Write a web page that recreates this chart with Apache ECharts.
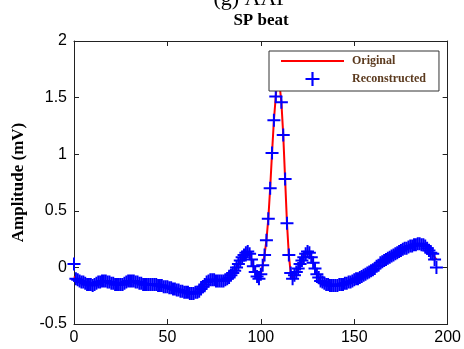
<!DOCTYPE html>
<html>
<head>
<meta charset="utf-8">
<script src="https://cdn.jsdelivr.net/npm/echarts@6/dist/echarts.min.js"></script>
<style>html,body{margin:0;padding:0;background:#fff}#c{width:464px;height:349px}</style>
</head>
<body>
<div id="c"></div>
<script>
// sample index starts at 0, one sample per x unit
var startX = 0;
var original = [
 -0.08,-0.10,-0.11,-0.12,-0.13,-0.13,-0.14,-0.15,-0.15,-0.15,
 -0.16,-0.15,-0.14,-0.13,-0.13,-0.12,-0.12,-0.12,-0.13,-0.13,
 -0.14,-0.14,-0.15,-0.15,-0.15,-0.15,-0.15,-0.14,-0.13,-0.12,
 -0.12,-0.12,-0.12,-0.13,-0.13,-0.14,-0.14,-0.15,-0.15,-0.15,
 -0.15,-0.15,-0.15,-0.15,-0.15,-0.16,-0.16,-0.16,-0.17,-0.17,
 -0.17,-0.18,-0.18,-0.19,-0.19,-0.20,-0.20,-0.21,-0.21,-0.22,
 -0.22,-0.22,-0.23,-0.23,-0.23,-0.22,-0.22,-0.21,-0.19,-0.17,
 -0.15,-0.13,-0.12,-0.11,-0.11,-0.11,-0.12,-0.12,-0.12,-0.12,
 -0.12,-0.11,-0.10,-0.09,-0.07,-0.05,-0.03,0.00,0.03,0.06,
 0.09,0.11,0.13,0.14,0.12,0.07,0.01,-0.04,-0.08,-0.10,
 -0.06,0.02,0.11,0.24,0.43,0.70,1.01,1.30,1.51,1.72,
 1.62,1.46,1.17,0.78,0.39,0.11,-0.05,-0.10,-0.07,-0.04,
 -0.01,0.03,0.06,0.09,0.12,0.14,0.13,0.09,0.04,-0.01,
 -0.06,-0.09,-0.12,-0.13,-0.14,-0.15,-0.15,-0.16,-0.16,-0.16,
 -0.16,-0.16,-0.15,-0.15,-0.15,-0.14,-0.14,-0.13,-0.13,-0.12,
 -0.11,-0.10,-0.10,-0.09,-0.08,-0.07,-0.06,-0.05,-0.04,-0.03,
 -0.02,-0.01,0.01,0.02,0.04,0.05,0.06,0.07,0.08,0.09,
 0.10,0.11,0.12,0.13,0.14,0.15,0.16,0.17,0.17,0.18,
 0.19,0.19,0.20,0.20,0.21,0.21,0.20,0.20,0.19,0.17,
 0.15,0.13,0.11,0.09,0.07
];
var reconstructed = [
 0.03,-0.10,-0.11,-0.12,-0.13,-0.13,-0.14,-0.15,-0.15,-0.15,
 -0.16,-0.15,-0.14,-0.13,-0.13,-0.12,-0.12,-0.12,-0.13,-0.13,
 -0.14,-0.14,-0.15,-0.15,-0.15,-0.15,-0.15,-0.14,-0.13,-0.12,
 -0.12,-0.12,-0.12,-0.13,-0.13,-0.14,-0.14,-0.15,-0.15,-0.15,
 -0.15,-0.15,-0.15,-0.15,-0.15,-0.16,-0.16,-0.16,-0.17,-0.17,
 -0.17,-0.18,-0.18,-0.19,-0.19,-0.20,-0.20,-0.21,-0.21,-0.22,
 -0.22,-0.22,-0.23,-0.23,-0.23,-0.22,-0.22,-0.21,-0.19,-0.17,
 -0.15,-0.13,-0.12,-0.11,-0.11,-0.11,-0.12,-0.12,-0.12,-0.12,
 -0.12,-0.11,-0.10,-0.09,-0.07,-0.05,-0.03,0.00,0.03,0.06,
 0.09,0.11,0.13,0.14,0.12,0.07,0.01,-0.04,-0.08,-0.10,
 -0.06,0.02,0.11,0.24,0.43,0.70,1.01,1.30,1.51,1.72,
 1.62,1.46,1.17,0.78,0.39,0.11,-0.05,-0.10,-0.07,-0.04,
 -0.01,0.03,0.06,0.09,0.12,0.14,0.13,0.09,0.04,-0.01,
 -0.06,-0.09,-0.12,-0.13,-0.14,-0.15,-0.15,-0.16,-0.16,-0.16,
 -0.16,-0.16,-0.15,-0.15,-0.15,-0.14,-0.14,-0.13,-0.13,-0.12,
 -0.11,-0.10,-0.10,-0.09,-0.08,-0.07,-0.06,-0.05,-0.04,-0.03,
 -0.02,-0.01,0.01,0.02,0.04,0.05,0.06,0.07,0.08,0.09,
 0.10,0.11,0.12,0.13,0.14,0.15,0.16,0.17,0.17,0.18,
 0.19,0.19,0.20,0.20,0.21,0.21,0.20,0.20,0.19,0.17,
 0.15,0.13,0.12,0.07,0.00
];
var seriesNames = ['Original', 'Reconstructed'];
var mainTitle = '(g) AAP';
var subTitle = 'SP beat';
var yName = 'Amplitude (mV)';

function pairs(arr){ return arr.map(function(v,i){ return [startX + i, v]; }); }
var plusPath = 'path://M5.5,0h2v5.5h5.5v2h-5.5v5.5h-2v-5.5h-5.5v-2h5.5z';
var axisColor = '#222';
var labelFont = {fontFamily:'Liberation Sans', fontSize:16, color:'#000'};

var chart = echarts.init(document.getElementById('c'), null, {renderer:'canvas'});
chart.setOption({
  animation:false,
  backgroundColor:'#fff',
  grid:{left:74, right:15, top:41, bottom:25, containLabel:false},
  graphic:[
    {type:'text', x:251, y:-1, style:{text:mainTitle, font:'22px "Liberation Serif"', fill:'#000', align:'center', verticalAlign:'middle'}},
    {type:'text', x:261, y:21, style:{text:subTitle, font:'bold 17px "Liberation Serif"', fill:'#000', align:'center', verticalAlign:'middle'}}
  ],
  legend:{
    orient:'vertical', left:269, top:51,
    padding:[4,13,5,12], itemWidth:63, itemHeight:14, itemGap:5,
    backgroundColor:'#fff', borderColor:'#333', borderWidth:1, borderRadius:0,
    textStyle:{fontFamily:'Liberation Serif', fontWeight:'bold', fontSize:12, color:'#5b3a1e', padding:[0,0,0,3]},
    data:[{name:seriesNames[0], icon:'path://M0,0H63V2H0Z'},{name:seriesNames[1], icon:plusPath}]
  },
  xAxis:[
    {type:'value', min:0, max:200, interval:50, position:'bottom',
     axisLine:{show:true, onZero:false, lineStyle:{color:axisColor, width:1}},
     axisTick:{show:true, inside:true, length:5, lineStyle:{color:axisColor}},
     axisLabel:Object.assign({margin:6}, labelFont), splitLine:{show:false}},
    {type:'value', min:0, max:200, interval:50, position:'top',
     axisLine:{show:true, onZero:false, lineStyle:{color:axisColor, width:1}},
     axisTick:{show:true, inside:true, length:5, lineStyle:{color:axisColor}},
     axisLabel:{show:false}, splitLine:{show:false}}
  ],
  yAxis:[
    {type:'value', min:-0.5, max:2, interval:0.5, position:'left',
     name:yName, nameLocation:'middle', nameRotate:90, nameGap:47,
     nameTextStyle:{fontFamily:'Liberation Serif', fontWeight:'bold', fontSize:17, color:'#000'},
     axisLine:{show:true, onZero:false, lineStyle:{color:axisColor, width:1}},
     axisTick:{show:true, inside:true, length:5, lineStyle:{color:axisColor}},
     axisLabel:Object.assign({margin:7}, labelFont), splitLine:{show:false}},
    {type:'value', min:-0.5, max:2, interval:0.5, position:'right',
     axisLine:{show:true, onZero:false, lineStyle:{color:axisColor, width:1}},
     axisTick:{show:true, inside:true, length:5, lineStyle:{color:axisColor}},
     axisLabel:{show:false}, splitLine:{show:false}}
  ],
  series:[
    {name:seriesNames[0], type:'line', data:pairs(original), showSymbol:false, symbol:'none',
     color:'#ff0000', lineStyle:{color:'#ff0000', width:2}, z:2, xAxisIndex:0, yAxisIndex:0},
    {name:seriesNames[1], type:'scatter', data:pairs(reconstructed), symbol:plusPath, symbolSize:13,
     color:'#0000ff', itemStyle:{color:'#0000ff', opacity:1}, z:3, xAxisIndex:0, yAxisIndex:0}
  ]
});
</script>
</body>
</html>
